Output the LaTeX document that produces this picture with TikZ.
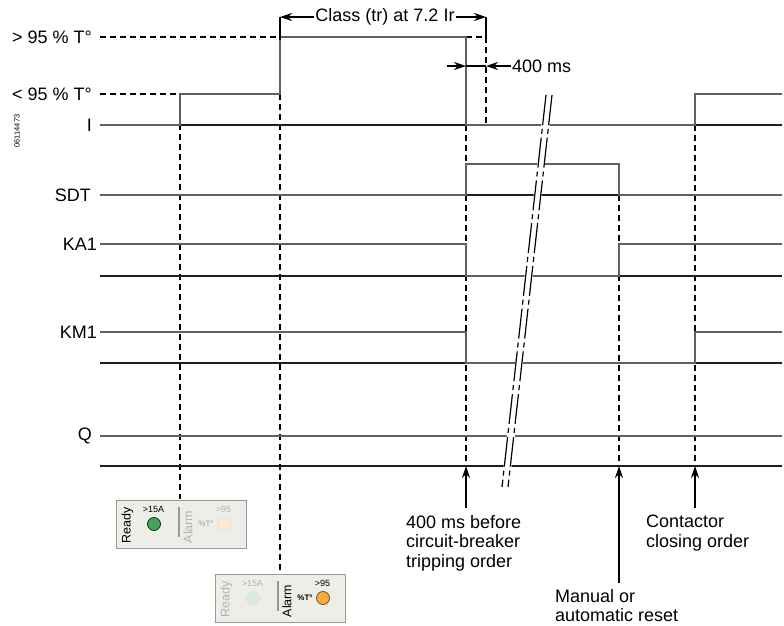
\documentclass[tikz,border=0pt]{standalone}
\usepackage{fontspec}
\setmainfont{Liberation Sans}
\usetikzlibrary{arrows.meta}
\definecolor{ledgreen}{RGB}{72,160,98}
\definecolor{ledgreenpale}{RGB}{214,236,218}
\definecolor{ledorange}{RGB}{247,172,62}
\definecolor{ledorangepale}{RGB}{253,234,204}
\definecolor{panelgrey}{RGB}{238,238,233}

\begin{document}
\begin{tikzpicture}[x=1pt, y=-1pt,
  sig/.style={line width=1.4pt, draw=black!62},
  ref/.style={line width=1.4pt, draw=black!88},
  guide/.style={line width=1.3pt, dash pattern=on 6pt off 4pt},
  tick/.style={line width=1.3pt},
  arr/.style={line width=1.3pt, -{Stealth[length=12pt, width=8pt]}},
  lbl/.style={font=\fontsize{18}{20}\selectfont, inner sep=1pt},
  note/.style={font=\fontsize{18}{19.5}\selectfont, align=left, anchor=north west, inner sep=0pt},
  brk/.style={line width=1.2pt, dash pattern=on 30pt off 4pt on 5pt off 4pt},
  panel/.style={fill=panelgrey, draw=black!40, line width=1pt},
  word/.style={font=\fontsize{12.5}{13}\selectfont, rotate=90, inner sep=0pt},
  tiny/.style={font=\fontsize{9}{10}\selectfont, inner sep=0pt},
  unit/.style={font=\fontsize{8}{9}\selectfont\bfseries, inner sep=0pt},
  dim/.style={text=black!30},
  ledon/.style={line width=0.8pt},
]
\useasboundingbox (0,0) rectangle (784,625);

% signal names
\node[lbl, anchor=east] (hi) at (93,37) {> 95 \% T°};
\node[lbl, anchor=east] (lo) at (93,94) {< 95 \% T°};
\node[lbl, anchor=east] (i) at (93,125) {I};
\node[lbl, anchor=east] (sdt) at (92,195) {SDT};
\node[lbl, anchor=east] (ka) at (98,244) {KA1};
\node[lbl, anchor=east] (km) at (98,332) {KM1};
\node[lbl, anchor=east] (q) at (93,436) {Q};
\node[font=\fontsize{7.5}{8}\selectfont, rotate=90, inner sep=0pt] (ref) at (17,131) {06114473};

% guide lines
\draw[guide] (100,37) -- (280,37);
\draw[guide] (100,94) -- (180,94);
\draw[guide] (180,94) -- (180,499);
\draw[guide] (280,94) -- (280,574);
\draw[guide] (466,125) -- (466,466);
\draw[guide] (466,37) -- (486,37) -- (486,125);
\draw[guide] (619,195) -- (619,466);
\draw[guide] (695,125) -- (695,466);

% reference lines
\foreach \y in {125,195,276,363,466}
  \draw[ref] (100,\y) -- (782,\y);

% signals
\draw[sig] (100,125) -- (180,125) -- (180,94) -- (280,94) -- (280,37) -- (466,37) -- (466,125) -- (695,125) -- (695,94) -- (782,94);
\draw[sig] (100,195) -- (466,195) -- (466,164) -- (619,164) -- (619,195) -- (782,195);
\draw[sig] (100,244) -- (466,244) -- (466,276) -- (619,276) -- (619,244) -- (782,244);
\draw[sig] (100,332) -- (466,332) -- (466,363) -- (695,363) -- (695,332) -- (782,332);
\draw[sig] (100,436) -- (782,436);

% time break
\fill[white] (545,93) -- (553,93) -- (509,489) -- (501,489) -- cycle;
\draw[brk] (546,95) -- (502,487);
\draw[brk] (552,95) -- (508,487);

% class time
\node[lbl] (class) at (385,17) {Class (tr) at 7.2 Ir};
\draw[tick] (280,17) -- (280,40);
\draw[tick] (486,17) -- (486,40);
\draw[arr] (class.west) -- (280,17);
\draw[arr] (class.east) -- (486,17);

% 400 ms
\node[lbl, anchor=west] (ms) at (511,66) {400 ms};
\draw[arr] (447,66) -- (466,66);
\draw[tick] (466,66) -- (486,66);
\draw[arr] (ms.west) -- (486,66);

% events
\node[note] (trip) at (406,515) {400 ms before\\circuit-breaker\\tripping order};
\node[note] (reset) at (555,589) {Manual or\\automatic reset};
\node[note] (close) at (646,515) {Contactor\\closing order};
\draw[arr] (466,508) -- (466,466);
\draw[arr] (619,583) -- (619,466);
\draw[arr] (695,508) -- (695,466);

% panel: ready
\begin{scope}[shift={(116,500)}]
\draw[panel] (0,0) rectangle (130,48);
\node[word] (rdy1) at (11.5,25) {Ready};
\node[tiny] (amp1) at (37.5,9) {>15A};
\draw[ledon, fill=ledgreen, draw=green!25!black] (38,24) circle (6.5);
\draw[line width=1.5pt, black!40] (63,7) -- (63,37);
\node[word, dim] (alm1) at (72,27) {Alarm};
\node[unit, dim] (pct1) at (90,24) {\%T°};
\node[tiny, dim] (lim1) at (107.5,9) {>95};
\draw[fill=ledorangepale, draw=black!15] (108,24) circle (6.5);
\end{scope}

% panel: alarm
\begin{scope}[shift={(215,574)}]
\draw[panel] (0,0) rectangle (130,48);
\node[word, dim] (rdy2) at (11.5,25) {Ready};
\node[tiny, dim] (amp2) at (37.5,9) {>15A};
\draw[fill=ledgreenpale, draw=black!15] (38,24) circle (6.5);
\draw[line width=1.5pt, black!40] (63,7) -- (63,37);
\node[word] (alm2) at (72,27) {Alarm};
\node[unit] (pct2) at (90,24) {\%T°};
\node[tiny] (lim2) at (107.5,9) {>95};
\draw[ledon, fill=ledorange, draw=brown!60!black] (108,24) circle (6.5);
\end{scope}
\end{tikzpicture}
\end{document}
